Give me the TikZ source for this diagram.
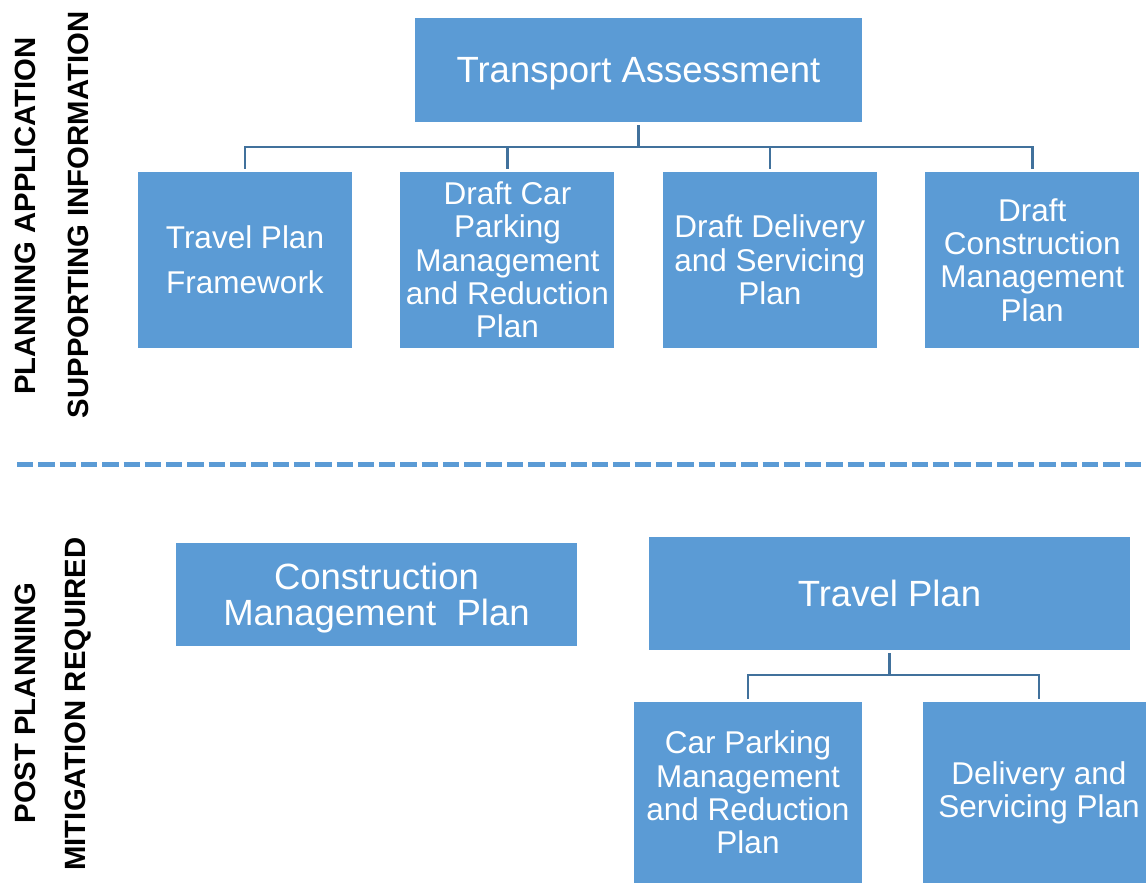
\documentclass[tikz,border=0pt]{standalone}
\usepackage{fontspec}
\setmainfont{Liberation Sans}
\usepackage{tikz}
\usetikzlibrary{positioning}

\definecolor{boxblue}{HTML}{5B9BD5}
\definecolor{linkblue}{HTML}{41719C}
\tikzset{
  bigbox/.style={fill=boxblue,text=white,align=center,inner sep=0pt,text depth=0pt,
    font=\fontsize{36.5pt}{36pt}\selectfont},
  smallbox/.style={fill=boxblue,text=white,align=center,inner sep=0pt,
    minimum width=214pt,minimum height=176pt,
    font=\fontsize{31.5pt}{33.3pt}\selectfont},
  sidelabel/.style={rotate=90,inner sep=0pt,font=\bfseries\fontsize{29.3pt}{30pt}\selectfont},
  link/.style={draw=linkblue,line width=2.6pt},
  divider/.style={draw=boxblue,line width=5pt,dash pattern=on 16.3pt off 5pt}
}

\begin{document}
\begin{tikzpicture}[x=1pt,y=-1pt]
				\useasboundingbox (0,0) rectangle (1146,883);
				\node[sidelabel](plan) at (25,216) {PLANNING APPLICATION};
				\node[sidelabel](supp) at (78,215) {SUPPORTING INFORMATION};
				\node[sidelabel](post) at (25,703) {POST PLANNING};
				\node[sidelabel](miti) at (78,704) {MITIGATION REQUIRED};

				\node[bigbox,minimum width=447pt,minimum height=104pt](ta) at (638.5,70) {Transport Assessment};
				\node[smallbox](tpf) at (245,260) {Travel Plan\\[12pt]Framework};
				\node[smallbox,right=48pt of tpf](dcp) {Draft Car\\Parking\\Management\\and Reduction\\Plan};
				\node[smallbox,right=48pt of dcp](dds) {Draft Delivery\\and Servicing\\Plan};
				\node[smallbox,right=48pt of dds](dcm) {Draft\\Construction\\Management\\Plan};
				\coordinate (a1) at (ta.south |- 0,147);

				\coordinate (d1) at (17,464);
				\coordinate (d2) at (1146,464);

				\node[bigbox,minimum width=401pt,minimum height=103pt](cmp) at (376.5,594.5) {Construction\\Management\ \ Plan};
				\node[bigbox,minimum width=481pt,minimum height=113pt](tp) at (889.5,593.5) {Travel Plan};
				\node[smallbox,minimum width=228pt,minimum height=181pt](cpm) at (748,792.5) {Car Parking\\Management\\and Reduction\\Plan};
				\node[smallbox,minimum width=232pt,minimum height=181pt](dsp) at (1039,792.5) {Delivery and\\Servicing Plan};
				\coordinate (a2) at (tp.south |- 0,675);

				\draw[link,shorten <=3pt] (ta) -- (a1);
				\draw[link,shorten >=3pt] (a1) -| (tpf);
				\draw[link,shorten >=3pt] (a1) -| (dcp);
				\draw[link,shorten >=3pt] (a1) -| (dds);
				\draw[link,shorten >=3pt] (a1) -| (dcm);
				\draw[divider] (d1) -- (d2);
				\draw[link,shorten <=3pt] (tp) -- (a2);
				\draw[link,shorten >=3pt] (a2) -| (cpm);
				\draw[link,shorten >=3pt] (a2) -| (dsp);
			\end{tikzpicture}
\end{document}
